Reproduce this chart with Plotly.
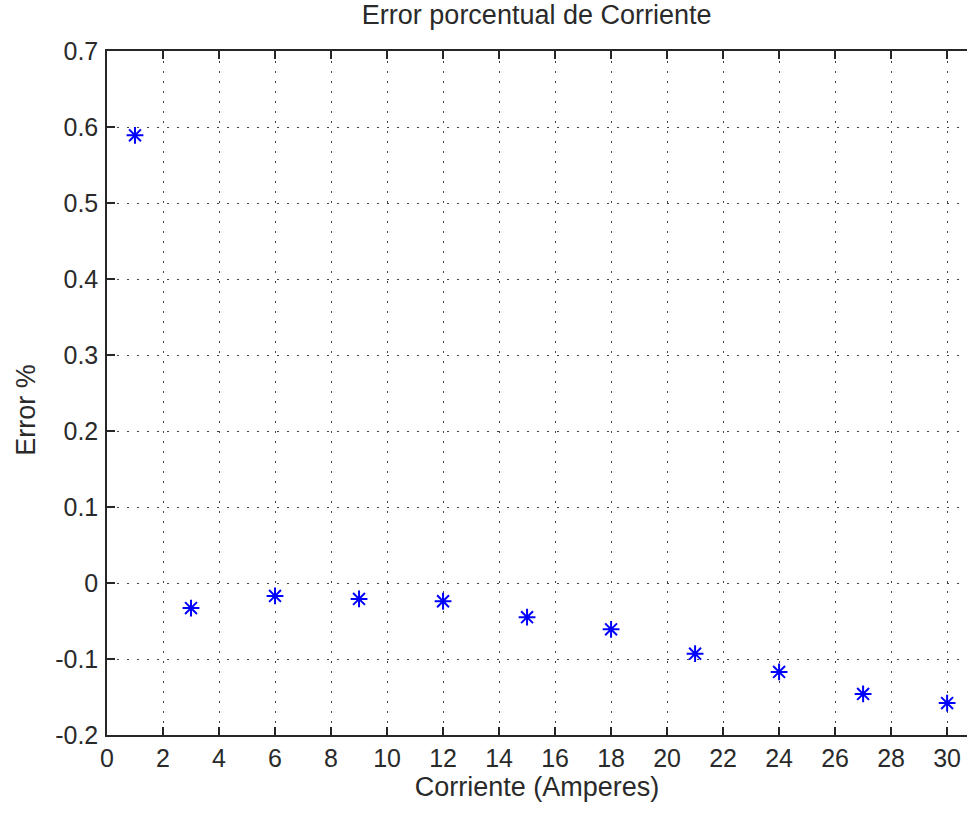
import plotly.graph_objects as go

# Current setpoints (A) and measured percentage error
corriente = [1, 3, 6, 9, 12, 15, 18, 21, 24, 27, 30]
error_pct = [0.589, -0.033, -0.017, -0.021, -0.024, -0.045, -0.061, -0.093, -0.117, -0.146, -0.158]

x_ticks = list(range(0, 32, 2))
y_ticks = [0.7, 0.6, 0.5, 0.4, 0.3, 0.2, 0.1, 0, -0.1, -0.2]
y_tick_text = ["0.7", "0.6", "0.5", "0.4", "0.3", "0.2", "0.1", "0", "-0.1", "-0.2"]

font_family = "Liberation Sans, Arial, sans-serif"
axis_color = "#262626"
text_color = "#2a2a2a"

fig = go.Figure()
fig.add_trace(go.Scatter(
    x=corriente, y=error_pct, mode="markers",
    marker=dict(symbol="asterisk-open", size=14, color="#0000ff",
                line=dict(color="#0000ff", width=2)),
    showlegend=False,
))

axis_common = dict(
    showline=True, linecolor=axis_color, linewidth=1.5,
    ticks="inside", ticklen=8, tickwidth=1.5, tickcolor=axis_color,
    showgrid=True, gridcolor="#444444", gridwidth=1, griddash="2px,8px",
    zeroline=False,
    tickfont=dict(family=font_family, size=25, color=text_color),
)

fig.update_layout(
    width=967, height=814,
    margin=dict(l=107, r=0, t=51, b=79),
    paper_bgcolor="white", plot_bgcolor="white",
    title=dict(text="Error porcentual de Corriente", xref="container", x=0.555,
               xanchor="center", yref="container", y=0.982, yanchor="middle",
               font=dict(family=font_family, size=27, color=text_color)),
    xaxis=dict(range=[0, 30.71], tickvals=x_ticks, mirror="ticks",
               ticklabelstandoff=0,
               title=dict(text="Corriente (Amperes)", standoff=2,
                          font=dict(family=font_family, size=27, color=text_color)),
               **axis_common),
    yaxis=dict(range=[-0.2, 0.7], tickvals=y_ticks, ticktext=y_tick_text,
               ticklabelstandoff=2, **axis_common),
    annotations=[dict(text="Error %", textangle=-90, showarrow=False,
                      xref="paper", x=-0.0935, xanchor="center",
                      yref="paper", y=0.475, yanchor="middle",
                      font=dict(family=font_family, size=27, color=text_color))],
)

fig.write_html("out.html")
